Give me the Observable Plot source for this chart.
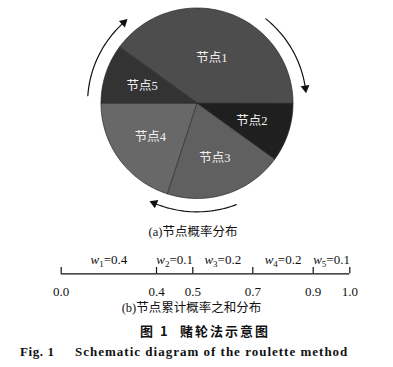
<!DOCTYPE html>
<html><head><meta charset="utf-8">
<script src="https://cdn.jsdelivr.net/npm/d3@7"></script>
<script src="https://cdn.jsdelivr.net/npm/@observablehq/plot@0.6"></script>
<style>
body{margin:0;background:#fff;width:393px;height:367px;position:relative;overflow:hidden;font-family:"Liberation Serif","Noto Sans CJK SC",serif;color:#111}
.abs{position:absolute;white-space:nowrap;line-height:16px}
</style></head>
<body>
<div id="pie" class="abs" style="left:0;top:0"></div>
<div class="abs" style="left:0;width:386px;top:224px;text-align:center;font-size:12.5px">(a)节点概率分布</div>
<div id="line" class="abs" style="left:0;top:250px"></div>
<div class="abs" style="left:0;width:383px;top:300px;text-align:center;font-size:12.5px">(b)节点累计概率之和分布</div>
<div class="abs" style="left:140px;top:323px;font-family:'Noto Sans CJK SC',sans-serif;font-weight:bold;font-size:13px;letter-spacing:2px">图&nbsp;1</div>
<div class="abs" style="left:180px;top:323px;font-family:'Noto Sans CJK SC',sans-serif;font-weight:bold;font-size:13px;letter-spacing:2px">赌轮法示意图</div>
<div class="abs" style="left:20px;top:344px;font-weight:bold;font-size:13px;letter-spacing:0.6px">Fig. 1</div>
<div class="abs" style="left:75px;top:344px;font-weight:bold;font-size:13px;letter-spacing:1px">Schematic diagram of the roulette method</div>
<script>
const nodes = ["节点1", "节点2", "节点3", "节点4", "节点5"];
const probs = [0.4, 0.1, 0.2, 0.2, 0.1];
const cumTicks = [0, 0.4, 0.5, 0.7, 0.9, 1.0];
const tickLabels = ["0.0", "0.4", "0.5", "0.7", "0.9", "1.0"];
const sliceColors = ["#4d4d4d", "#1f1f1f", "#606060", "#686868", "#333333"];
// rotation arrows: [start, end] in degrees clockwise from north
const arrowArcs = [[39, 82], [274, 318], [159, 203]];
const startAngle = -54; // compass degrees of slice 1 start

const rad = d => d * Math.PI / 180;
const polar = (r, a) => ({x: r * Math.sin(rad(a)), y: r * Math.cos(rad(a))});

const cum = [0];
probs.forEach((p, i) => cum.push(cum[i] + p));

const sliceRows = [];
nodes.forEach((n, i) => {
  const a0 = startAngle + 360 * cum[i], a1 = startAngle + 360 * cum[i + 1];
  sliceRows.push({node: n, x: 0, y: 0});
  const steps = Math.max(8, Math.ceil((a1 - a0) / 1.5));
  for (let k = 0; k <= steps; k++) {
    const p = polar(1, a0 + (a1 - a0) * k / steps);
    sliceRows.push({node: n, ...p});
  }
});
const labelRows = nodes.map((n, i) => {
  const am = startAngle + 360 * (cum[i] + cum[i + 1]) / 2;
  const r = i === 0 ? 0.5 : 0.6;
  return {node: n, ...polar(r, am)};
});
const arrowRows = [], headRows = [];
const R2 = 1.14;
arrowArcs.forEach(([a0, a1], j) => {
  for (let k = 0; k <= 30; k++) arrowRows.push({id: j, ...polar(R2, a0 + (a1 - a0) * k / 30)});
  headRows.push({id: j, rot: a1 + 90, ...polar(R2, a1)});
});

const pie = Plot.plot({
  width: 393, height: 215,
  margin: 0,
  x: {domain: [-1, 1], range: [100.5, 292.5], axis: null},
  y: {domain: [-1, 1], range: [198, 7.5], axis: null},
  color: {domain: nodes, range: sliceColors},
  marks: [
    Plot.line(sliceRows, {x: "x", y: "y", z: "node", fill: "node", stroke: "#262626", strokeWidth: 0.7, curve: "linear-closed"}),
    Plot.text(labelRows, {x: "x", y: "y", text: "node", fill: "#f2f2f2", fontSize: 12.5, fontFamily: "Liberation Serif, Noto Sans CJK SC"}),
    Plot.line(arrowRows, {x: "x", y: "y", z: "id", stroke: "#111", strokeWidth: 1.2}),
    Plot.dot(headRows, {x: "x", y: "y", symbol: "triangle", r: 3.3, fill: "#111", stroke: "none", rotate: "rot"})
  ]
});
document.getElementById("pie").appendChild(pie);

const weightRows = probs.map((p, i) => ({i: i + 1, p, mid: (cumTicks[i] + cumTicks[i + 1]) / 2}));
const tickRows = cumTicks.map((v, i) => ({v, label: tickLabels[i]}));

// schematic (non-uniform) placement of cumulative ticks along the line
const schematic = d3.scaleLinear(cumTicks, [60.7, 156, 192.3, 252.3, 312.7, 349.3]);

const line = Plot.plot({
  width: 393, height: 50,
  margin: 0,
  x: {transform: schematic, domain: [0, 393], range: [0, 393], axis: null},
  y: {domain: [0, 1], range: [23.3, 17], axis: null},
  marks: [
    Plot.ruleY([0], {x1: 0, x2: 1, stroke: "#111", strokeWidth: 1.2}),
    Plot.ruleX(tickRows, {x: "v", y1: 0, y2: 1, stroke: "#111", strokeWidth: 1.2}),
    Plot.text(weightRows, {x: "mid", y: 1, dy: -8, text: d => `w${d.i}=${d.p}`, fontSize: 13, fill: "#111", fontFamily: "Liberation Serif"}),
    Plot.text(tickRows, {x: "v", y: 0, dy: 18, text: "label", fontSize: 13, fill: "#111", fontFamily: "Liberation Serif"})
  ]
});
document.getElementById("line").appendChild(line);

// rich formatting for weight labels: italic w with subscript index
const textGroups = line.querySelectorAll('g[aria-label="text"]');
d3.select(textGroups[0]).selectAll("text").each(function(_, k) {
  const d = weightRows[k];
  const t = d3.select(this);
  t.text(null);
  t.append("tspan").attr("font-style", "italic").text("w");
  t.append("tspan").attr("font-size", 9).attr("dy", 3).text(String(d.i));
  t.append("tspan").attr("dy", -3).text("=" + d.p);
});
</script>
</body></html>
